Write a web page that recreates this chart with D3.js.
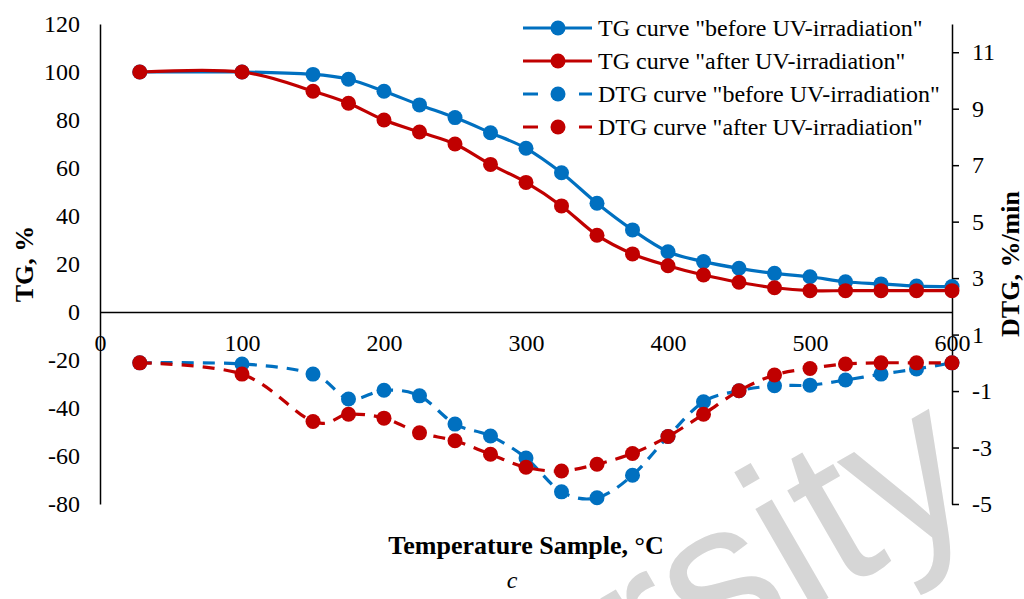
<!DOCTYPE html>
<html>
<head>
<meta charset="utf-8">
<script src="https://cdn.jsdelivr.net/npm/d3@7"></script>
<style>
  body { margin: 0; background: #fff; }
  svg text { font-family: "Liberation Serif", "Times New Roman", serif; }
</style>
</head>
<body>
<div id="chart"></div>
<script>
// Data
var temps       = [28, 100, 150, 175, 200, 225, 250, 275, 300, 325, 350, 375, 400, 425, 450, 475, 500, 525, 550, 575, 600];
var tgBefore    = [100, 100, 99, 97, 92, 86.3, 81, 74.7, 68.2, 58, 45.3, 34.2, 25.1, 21, 18.2, 16.1, 14.7, 12.6, 11.7, 10.8, 10.6];
var tgAfter     = [100, 100, 92, 87, 80, 75, 70, 61.5, 54, 44.2, 32, 24.2, 19.3, 15.4, 12.4, 10.1, 8.9, 8.9, 8.9, 8.9, 8.9];
var dtgBefore   = [0, -0.04, -0.4, -1.28, -0.97, -1.17, -2.17, -2.59, -3.37, -4.57, -4.78, -3.98, -2.61, -1.38, -0.99, -0.81, -0.79, -0.61, -0.4, -0.22, 0];
var dtgAfter    = [0, -0.4, -2.08, -1.82, -1.96, -2.48, -2.76, -3.24, -3.7, -3.83, -3.59, -3.21, -2.61, -1.82, -0.99, -0.43, -0.2, -0.04, 0, 0, 0];
var xTicks      = [0, 100, 200, 300, 400, 500, 600];
var leftTicks   = [-80, -60, -40, -20, 0, 20, 40, 60, 80, 100, 120];
var rightTicks  = [-5, -3, -1, 1, 3, 5, 7, 9, 11];
var seriesNames = ['TG curve "before UV-irradiation"', 'TG curve "after UV-irradiation"',
                   'DTG curve "before UV-irradiation"', 'DTG curve "after UV-irradiation"'];

var chart_width  = 1024;
var chart_height = 599;
var blue = '#0070C0';
var red  = '#C00000';

var x  = d3.scaleLinear().domain([0, 600]).range([100, 952]);
var yL = d3.scaleLinear().domain([-80, 120]).range([504, 24]);
var yR = d3.scaleLinear().domain([-5, 12]).range([504, 24]);

// plain hyphen for negatives, like the original
var plain = function(d) { return String(d); };

var svg = d3.select('#chart')
            .append('svg')
            .attr('width', chart_width)
            .attr('height', chart_height);

// Watermark
svg.append('text')
   .attr('transform', 'translate(986,507) rotate(-30)')
   .attr('text-anchor', 'end')
   .style('font-family', '"Liberation Sans", Arial, sans-serif')
   .style('font-size', '215px')
   .attr('fill', '#d6d6d6')
   .text('University');

// Axes
var leftAxis = svg.append('g')
    .attr('transform', 'translate(100,0)')
    .call(d3.axisLeft(yL).tickValues(leftTicks).tickFormat(plain).tickSize(0).tickPadding(20));

var rightAxis = svg.append('g')
    .attr('transform', 'translate(952,0)')
    .call(d3.axisRight(yR).tickValues(rightTicks).tickFormat(plain)
            .tickSizeInner(7).tickSizeOuter(0).tickPadding(13));

var xAxis = svg.append('g')
    .attr('transform', 'translate(0,' + yL(0) + ')')
    .call(d3.axisBottom(x).tickValues(xTicks).tickFormat(plain).tickSize(0).tickPadding(22));

[leftAxis, rightAxis, xAxis].forEach(function(a) {
  a.attr('font-family', null);
  a.selectAll('text').style('font-size', '24px').attr('fill', '#000');
  a.selectAll('path, line').attr('stroke', '#000').attr('stroke-width', 1.5);
});

// Lines
var series = [
  { vals: tgBefore,  y: yL, color: blue, dash: null },
  { vals: tgAfter,   y: yL, color: red,  dash: null },
  { vals: dtgBefore, y: yR, color: blue, dash: '12,9' },
  { vals: dtgAfter,  y: yR, color: red,  dash: '12,9' }
];

series.forEach(function(s) {
  var line = d3.line()
      .x(function(d, i) { return x(temps[i]); })
      .y(function(d) { return s.y(d); })
      .curve(d3.curveCatmullRom.alpha(0));

  var g = svg.append('g');
  g.append('path')
   .datum(s.vals)
   .attr('fill', 'none')
   .attr('stroke', s.color)
   .attr('stroke-width', 3.2)
   .attr('stroke-dasharray', s.dash)
   .attr('d', line);

  g.selectAll('circle')
   .data(s.vals)
   .enter()
   .append('circle')
   .attr('cx', function(d, i) { return x(temps[i]); })
   .attr('cy', function(d) { return s.y(d); })
   .attr('r', 7.5)
   .attr('fill', s.color);
});

// Legend
var legend = svg.selectAll('g.legend')
    .data(series)
    .enter()
    .append('g')
    .classed('legend', true)
    .attr('transform', function(d, i) { return 'translate(523,' + (28 + i * 33) + ')'; });

legend.append('line')
    .attr('x1', 0).attr('x2', 69)
    .attr('stroke', function(d) { return d.color; })
    .attr('stroke-width', 3.2)
    .attr('stroke-dasharray', function(d) { return d.dash ? '15,20,1,20' : null; });

legend.append('circle')
    .attr('cx', 35)
    .attr('r', 7.5)
    .attr('fill', function(d) { return d.color; });

legend.append('text')
    .attr('x', 75)
    .attr('dy', '0.33em')
    .style('font-size', '24px')
    .text(function(d, i) { return seriesNames[i]; });

// Titles
svg.append('text')
   .attr('transform', 'translate(33,264) rotate(-90)')
   .attr('text-anchor', 'middle')
   .style('font-size', '26px')
   .style('font-weight', 'bold')
   .text('TG, %');

svg.append('text')
   .attr('transform', 'translate(1019,264) rotate(-90)')
   .attr('text-anchor', 'middle')
   .style('font-size', '26px')
   .style('font-weight', 'bold')
   .text('DTG, %/min');

svg.append('text')
   .attr('x', 526)
   .attr('y', 554)
   .attr('text-anchor', 'middle')
   .style('font-size', '26px')
   .style('font-weight', 'bold')
   .text('Temperature Sample, °C');

svg.append('text')
   .attr('x', 512)
   .attr('y', 588)
   .attr('text-anchor', 'middle')
   .style('font-size', '24px')
   .style('font-style', 'italic')
   .text('c');
</script>
</body>
</html>
